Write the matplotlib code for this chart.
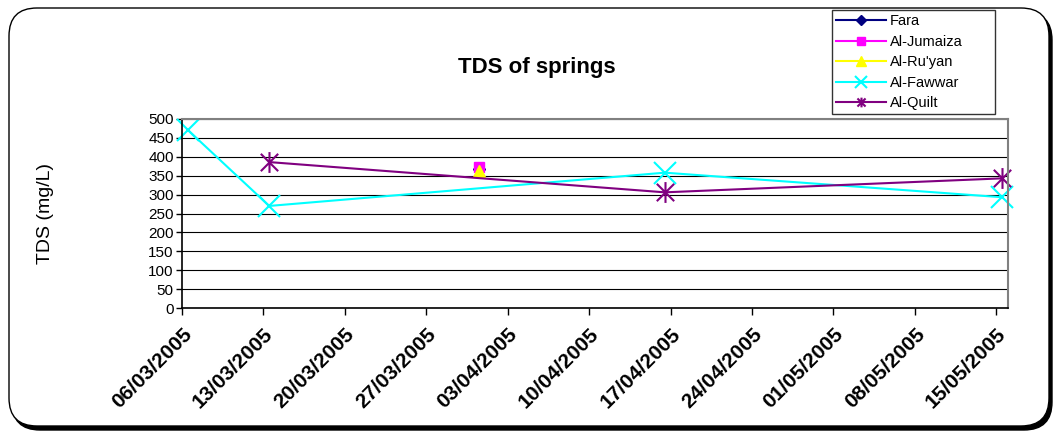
import numpy as np
import pandas as pd
import matplotlib
matplotlib.use('Agg')
import matplotlib.pyplot as plt
import matplotlib.dates as mdates
from matplotlib.patches import FancyBboxPatch
from matplotlib.path import Path

plt.rcParams['font.family'] = ['Liberation Sans', 'DejaVu Sans']

# datos
series_names = ['Fara', 'Al-Jumaiza', 'Al-Ru\'yan', 'Al-Fawwar', 'Al-Quilt']
fara_dates = ['2005-03-31']
fara_tds = [367]
jumaiza_dates = ['2005-03-31']
jumaiza_tds = [372]
ruyan_dates = ['2005-03-31']
ruyan_tds = [362]
fawwar_dates = ['2005-03-06', '2005-03-13', '2005-04-16', '2005-05-15']
fawwar_tds = [471, 270, 358, 293]
quilt_dates = ['2005-03-13', '2005-04-16', '2005-05-15']
quilt_tds = [386, 306, 343]
tick_dates = pd.date_range('2005-03-06', '2005-05-15', freq='7D')

# marcador asterisco tipo excel
asterisk = Path([(-1, -1), (1, 1), (-1, 1), (1, -1), (0, -1.2), (0, 1.2)],
                [Path.MOVETO, Path.LINETO, Path.MOVETO, Path.LINETO, Path.MOVETO, Path.LINETO])

# (fechas, valores, color, marcador, tamaño, tamaño en leyenda)
estilos = [
    (fara_dates, fara_tds, '#000080', 'D', 6, 5.5),
    (jumaiza_dates, jumaiza_tds, '#FF00FF', 's', 7, 6),
    (ruyan_dates, ruyan_tds, '#FFFF00', '^', 8, 7),
    (fawwar_dates, fawwar_tds, '#00FFFF', 'x', 16, 8),
    (quilt_dates, quilt_tds, '#800080', asterisk, 15, 7),
]

fig = plt.figure(figsize=(10.54, 4.33), dpi=100)
W, H = 1054, 433

# fondo: marco redondeado con sombra (coordenadas en pixeles)
bg = fig.add_axes([0, 0, 1, 1], zorder=0)
bg.set_xlim(0, W)
bg.set_ylim(H, 0)
bg.axis('off')
bg.add_patch(FancyBboxPatch((12, 12), 1040, 418, boxstyle='round,pad=0,rounding_size=28',
                            facecolor='black', edgecolor='black', lw=1))
bg.add_patch(FancyBboxPatch((9, 8), 1040, 418, boxstyle='round,pad=0,rounding_size=28',
                            facecolor='white', edgecolor='black', lw=1))

ax = fig.add_axes([182 / W, 1 - 308 / H, (1008 - 182) / W, (308 - 119) / H], zorder=1)

medio_dia = pd.Timedelta(hours=12)
for (fechas, vals, color, marker, ms, _), nombre in zip(estilos, series_names):
    x = pd.to_datetime(fechas) + medio_dia
    ax.plot(x, vals, color=color, marker=marker, markersize=ms, lw=1.5,
            markeredgewidth=1.5 if (marker == 'x' or marker is asterisk) else 1,
            markerfacecolor=color, markeredgecolor=color, label=nombre, clip_on=False)

ax.set_xlim(pd.Timestamp('2005-03-06'), pd.Timestamp('2005-05-16'))
ax.set_ylim(0, 500)
ax.set_yticks(np.arange(0, 501, 50))
ax.set_xticks(tick_dates)
ax.xaxis.set_major_formatter(mdates.DateFormatter('%d/%m/%Y'))
plt.setp(ax.get_xticklabels(), rotation=45, ha='right', rotation_mode='anchor', fontweight='bold', fontsize=15)
ax.tick_params(axis='y', labelsize=11, length=4, width=1, pad=2)
ax.tick_params(axis='x', length=5, width=1, pad=7)
ax.grid(axis='y', color='black', lw=0.8)
ax.set_axisbelow(True)
for s in ['top', 'right']:
    ax.spines[s].set_color('#808080')
    ax.spines[s].set_linewidth(1.5)
for s in ['left', 'bottom']:
    ax.spines[s].set_color('black')
    ax.spines[s].set_linewidth(1.2)

fig.text(537 / W, 1 - 67 / H, 'TDS of springs', ha='center', va='center', fontsize=16, fontweight='bold')
fig.text(46 / W, 1 - 213 / H, 'TDS (mg/L)', ha='center', va='center', rotation=90, fontsize=14)

handles, labels = ax.get_legend_handles_labels()
leg = fig.legend(handles, labels, loc='upper left', mode='expand',
                 bbox_to_anchor=(832 / W, 1 - 117 / H, 163 / W, 107 / H),
                 fontsize=10.5, frameon=True,
                 fancybox=False, edgecolor='black', borderpad=0.3, labelspacing=0.44, handlelength=3.4,
                 handletextpad=0.25, borderaxespad=0)
leg.get_frame().set_linewidth(1)
leg.set_zorder(5)
for h, est in zip(leg.legend_handles, estilos):
    h.set_markersize(est[5])

fig.savefig('out.png', dpi=100)
